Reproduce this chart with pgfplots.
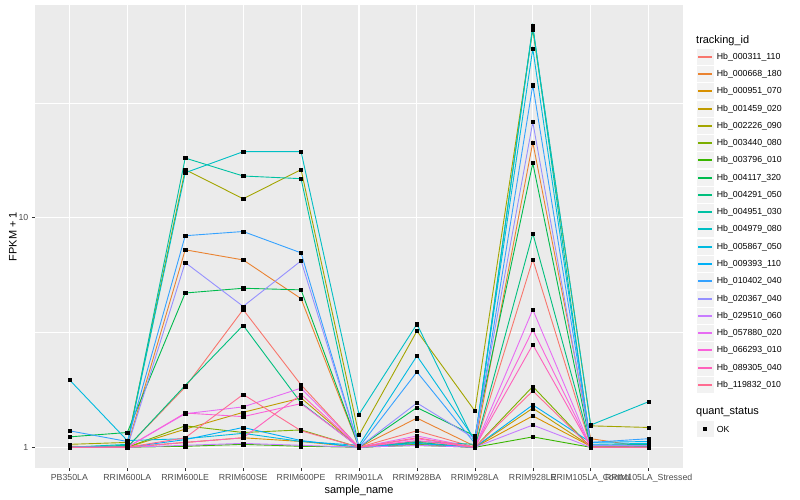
\documentclass[border=0pt]{standalone}
\usepackage{pgfplots}
\pgfplotsset{compat=1.18}
\usepackage{pgfplotstable}
\usepackage{fontspec}
\setmainfont{Liberation Sans}

% ggplot hue palette, 20 levels
\definecolor{c1}{HTML}{F8766D}
\definecolor{c2}{HTML}{EA8331}
\definecolor{c3}{HTML}{D89000}
\definecolor{c4}{HTML}{C09B00}
\definecolor{c5}{HTML}{A3A500}
\definecolor{c6}{HTML}{7CAE00}
\definecolor{c7}{HTML}{39B600}
\definecolor{c8}{HTML}{00BB4E}
\definecolor{c9}{HTML}{00BF7D}
\definecolor{c10}{HTML}{00C1A3}
\definecolor{c11}{HTML}{00BFC4}
\definecolor{c12}{HTML}{00BAE0}
\definecolor{c13}{HTML}{00B0F6}
\definecolor{c14}{HTML}{35A2FF}
\definecolor{c15}{HTML}{9590FF}
\definecolor{c16}{HTML}{C77CFF}
\definecolor{c17}{HTML}{E76BF3}
\definecolor{c18}{HTML}{FA62DB}
\definecolor{c19}{HTML}{FF62BC}
\definecolor{c20}{HTML}{FF6C91}
\definecolor{panel}{HTML}{EBEBEB}
\definecolor{keybg}{HTML}{F2F2F2}
\definecolor{grey30}{HTML}{4D4D4D}
\definecolor{grey20}{HTML}{333333}

% FPKM + 1, one row per sample, one column per tracking_id
\pgfplotstableread{
x  s1   s2   s3   s4   s5   s6   s7   s8   s9   s10  s11  s12  s13  s14  s15  s16  s17  s18  s19  s20
0  1.00 1.00 1.00 1.01 1.03 1.00 1.00 1.11 1.00 1.00 1.00 1.97 1.00 1.18 1.00 1.00 1.00 1.00 1.00 1.00
1  1.00 1.01 1.00 1.00 1.05 1.00 1.00 1.16 1.00 1.02 1.03 1.07 1.00 1.06 1.00 1.00 1.00 1.00 1.00 1.00
2  1.83 7.25 1.05 1.20 16.2 1.24 1.01 4.70 1.86 18.2 15.7 1.09 1.08 8.35 6.38 1.02 1.40 1.41 1.05 1.10
3  3.98 6.55 1.10 1.42 12.1 1.16 1.03 4.93 3.40 15.2 19.4 1.15 1.22 8.71 4.11 1.04 1.50 1.36 1.10 1.70
4  1.87 4.44 1.06 1.64 16.2 1.19 1.01 4.85 1.56 14.8 19.4 1.06 1.07 7.03 6.49 1.02 1.81 1.55 1.70 1.18
5  1.00 1.00 1.00 1.00 1.13 1.00 1.00 1.00 1.00 1.00 1.39 1.02 1.00 1.00 1.00 1.00 1.00 1.00 1.00 1.00
6  1.18 1.34 1.03 1.05 3.21 1.03 1.02 1.49 1.05 1.06 3.44 2.50 1.04 2.13 1.56 1.02 1.12 1.09 1.07 1.10
7  1.00 1.01 1.00 1.00 1.44 1.00 1.00 1.12 1.00 1.03 1.05 1.08 1.00 1.04 1.09 1.00 1.00 1.00 1.00 1.00
8  6.58 21.3 1.37 1.48 66.0 1.84 1.11 17.3 8.54 68.5 67.5 54.5 1.53 37.8 26.1 1.25 3.98 3.25 2.80 1.76
9  1.01 1.09 1.01 1.01 1.24 1.00 1.00 1.02 1.02 1.00 1.25 1.03 1.05 1.05 1.02 1.00 1.00 1.00 1.00 1.00
10 1.00 1.00 1.00 1.00 1.22 1.00 1.00 1.01 1.03 1.00 1.58 1.04 1.06 1.09 1.02 1.00 1.00 1.00 1.00 1.00
}\fpkm

\begin{document}
\begin{tikzpicture}[x=1bp,y=1bp]
\fill[white] (0,0) rectangle (800,500);
\path[use as bounding box] (0,0) rectangle (800,500);
\begin{axis}[
  at={(34.6bp,31.7bp)}, anchor=south west,
  scale only axis, width=648.8bp, height=463.3bp,
  xmin=-0.6, xmax=10.6,
  ymode=log, ymin=0.810, ymax=84.5,
  axis background/.style={fill=panel},
  axis line style={draw=none},
  xtick={0,...,10},
  xticklabels={PB350LA,RRIM600LA,RRIM600LE,RRIM600SE,RRIM600PE,RRIM901LA,RRIM928BA,RRIM928LA,RRIM928LE,RRIM105LA\_Control,RRIM105LA\_Stressed},
  ytick={1,10}, yticklabels={1,10},
  minor ytick={3.1623,31.623},
  xmajorgrids, ymajorgrids, yminorgrids,
  major grid style={white, line width=1.07pt},
  minor grid style={white, line width=0.53pt},
  tick align=outside, major tick length=2.75pt, minor tick length=0pt,
  tick style={grey20, line width=0.5pt},
  tick pos=left,
  ticklabel style={font=\fontsize{8.8}{10}\selectfont, text=grey30},
  xlabel={sample\_name}, ylabel={FPKM + 1},
  label style={font=\fontsize{11}{13}\selectfont},
  xlabel style={yshift=4bp},
  ylabel style={yshift=-5bp},
]
\pgfplotsinvokeforeach{1,...,20}{
  \addplot[color=c#1, line width=0.9pt] table[x=x, y=s#1] {\fpkm};
}
\pgfplotsinvokeforeach{1,...,20}{
  \addplot[only marks, mark=square*, mark size=1.6pt, black] table[x=x, y=s#1] {\fpkm};
}
\end{axis}

% legend
\node[anchor=west, inner sep=0, font=\fontsize{11}{13}\selectfont] at (696,459.3) {tracking\_id};
\foreach \nm [count=\i] in {Hb\_000311\_110,Hb\_000668\_180,Hb\_000951\_070,Hb\_001459\_020,Hb\_002226\_090,Hb\_003440\_080,Hb\_003796\_010,Hb\_004117\_320,Hb\_004291\_050,Hb\_004951\_030,Hb\_004979\_080,Hb\_005867\_050,Hb\_009393\_110,Hb\_010402\_040,Hb\_020367\_040,Hb\_029510\_060,Hb\_057880\_020,Hb\_066293\_010,Hb\_089305\_040,Hb\_119832\_010}{
  \pgfmathsetmacro\yc{round(443.3-(\i-1)*17.28)}
  \fill[keybg, draw=white] (696.4,\yc-8.64) rectangle (713.7,\yc+8.64);
  \fill[color=c\i] (698,\yc-0.8) rectangle (712,\yc+0.8);
  \node[anchor=west, inner sep=0, font=\fontsize{8.8}{10}\selectfont] at (716.7,\yc) {\nm};
}
\node[anchor=west, inner sep=0, font=\fontsize{11}{13}\selectfont] at (696,87.7) {quant\_status};
\fill[keybg, draw=white] (696.4,71-8.64) rectangle (713.7,71+8.64);
\fill[black] (703.4,69.4) rectangle (706.6,72.6);
\node[anchor=west, inner sep=0, font=\fontsize{8.8}{10}\selectfont] at (716.7,71) {OK};
\end{tikzpicture}
\end{document}
